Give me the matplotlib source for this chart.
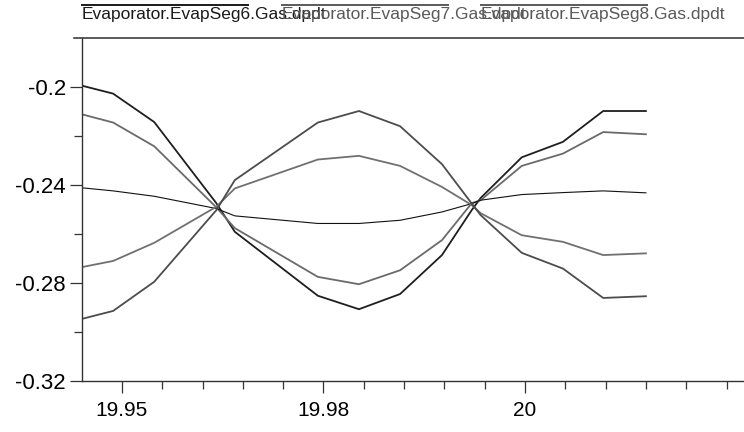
import matplotlib
matplotlib.use('Agg')
import matplotlib.pyplot as plt
from matplotlib.lines import Line2D
from matplotlib.ticker import FixedLocator, MultipleLocator

plt.rcParams['font.family'] = ['Liberation Sans', 'DejaVu Sans']

# time points (s)
time = [19.9452, 19.9489, 19.9540, 19.9617, 19.9640, 19.9743, 19.9794, 19.9845,
        19.9897, 19.9934, 19.9945, 19.9996, 20.0047, 20.0097, 20.0150]

seg_a = [-0.1996, -0.2027, -0.2143, -0.2474, -0.2591, -0.2852, -0.2907, -0.2845,
         -0.2686, -0.2502, -0.2453, -0.2287, -0.2224, -0.2098, -0.2098]
seg_b = [-0.2113, -0.2145, -0.2242, -0.2491, -0.2576, -0.2775, -0.2805, -0.2748,
         -0.2625, -0.2474, -0.2462, -0.2322, -0.2272, -0.2184, -0.2193]
seg_c = [-0.2412, -0.2424, -0.2446, -0.2496, -0.2526, -0.2557, -0.2557, -0.2544,
         -0.2510, -0.2476, -0.2462, -0.2439, -0.2431, -0.2424, -0.2432]
seg_d = [-0.2734, -0.2710, -0.2636, -0.2489, -0.2414, -0.2296, -0.2281, -0.2322,
         -0.2408, -0.2482, -0.2515, -0.2605, -0.2632, -0.2686, -0.2679]
seg_e = [-0.2945, -0.2914, -0.2795, -0.2503, -0.2380, -0.2145, -0.2098, -0.2160,
         -0.2315, -0.2476, -0.2523, -0.2677, -0.2741, -0.2861, -0.2854]

legend_labels = ['Evaporator.EvapSeg6.Gas.dpdt', 'Evaporator.EvapSeg7.Gas.dpdt',
                 'Evaporator.EvapSeg8.Gas.dpdt']
legend_colors = ['#1a1a1a', '#5a5a5a', '#5a5a5a']

x_ticks = [19.95, 19.975, 20.0]
x_ticklabels = ['19.95', '19.98', '20']
y_ticks = [-0.32, -0.28, -0.24, -0.2]
y_ticklabels = ['-0.32', '-0.28', '-0.24', '-0.2']

W, H = 744, 432
fig = plt.figure(figsize=(W / 100, H / 100), dpi=100)
ax = fig.add_axes([82 / W, (H - 381) / H, (W - 82) / W, (381 - 38) / H])

ax.plot(time, seg_a, color='#1e1e1e', lw=1.3)
ax.plot(time, seg_b, color='#6a6a6a', lw=1.3)
ax.plot(time, seg_c, color='#111111', lw=0.8)
ax.plot(time, seg_d, color='#707070', lw=1.3)
ax.plot(time, seg_e, color='#4c4c4c', lw=1.3)

ax.set_xlim(19.94504, 20.02717)
ax.set_ylim(-0.32, -0.18)

ax.xaxis.set_major_locator(FixedLocator(x_ticks))
ax.set_xticklabels(x_ticklabels)
ax.xaxis.set_minor_locator(MultipleLocator(0.005))
ax.yaxis.set_major_locator(FixedLocator(y_ticks))
ax.set_yticklabels(y_ticklabels)
ax.yaxis.set_minor_locator(FixedLocator([-0.30, -0.26, -0.22]))

ax.tick_params(axis='both', which='major', direction='out', length=8.5, width=0.9, color='#333333')
ax.tick_params(axis='both', which='minor', direction='out', length=5.5, width=0.9, color='#333333')
ax.tick_params(axis='x', which='major', labelsize=15, pad=6)
ax.tick_params(axis='y', which='major', labelsize=16, pad=3)

for side in ['left', 'bottom']:
    ax.spines[side].set_color('#333333')
    ax.spines[side].set_linewidth(1.0)
ax.spines['right'].set_visible(False)
ax.spines['top'].set_visible(False)

# top border line, a bit wider than the axes
fig.add_artist(Line2D([74 / W, 1.0], [1 - 38 / H, 1 - 38 / H], color='#404040', lw=1.2))

# legend above the plot: line over each label
starts = [82, 282, 481]
for x0, lab, col in zip(starts, legend_labels, legend_colors):
    fig.add_artist(Line2D([x0 / W, (x0 + 166) / W], [1 - 5 / H, 1 - 5 / H], color=col, lw=1.4))
    fig.text(x0 / W, 1 - 19 / H, lab, color=col, fontsize=12.5, va='baseline', ha='left')

fig.savefig('out.png', dpi=100)
